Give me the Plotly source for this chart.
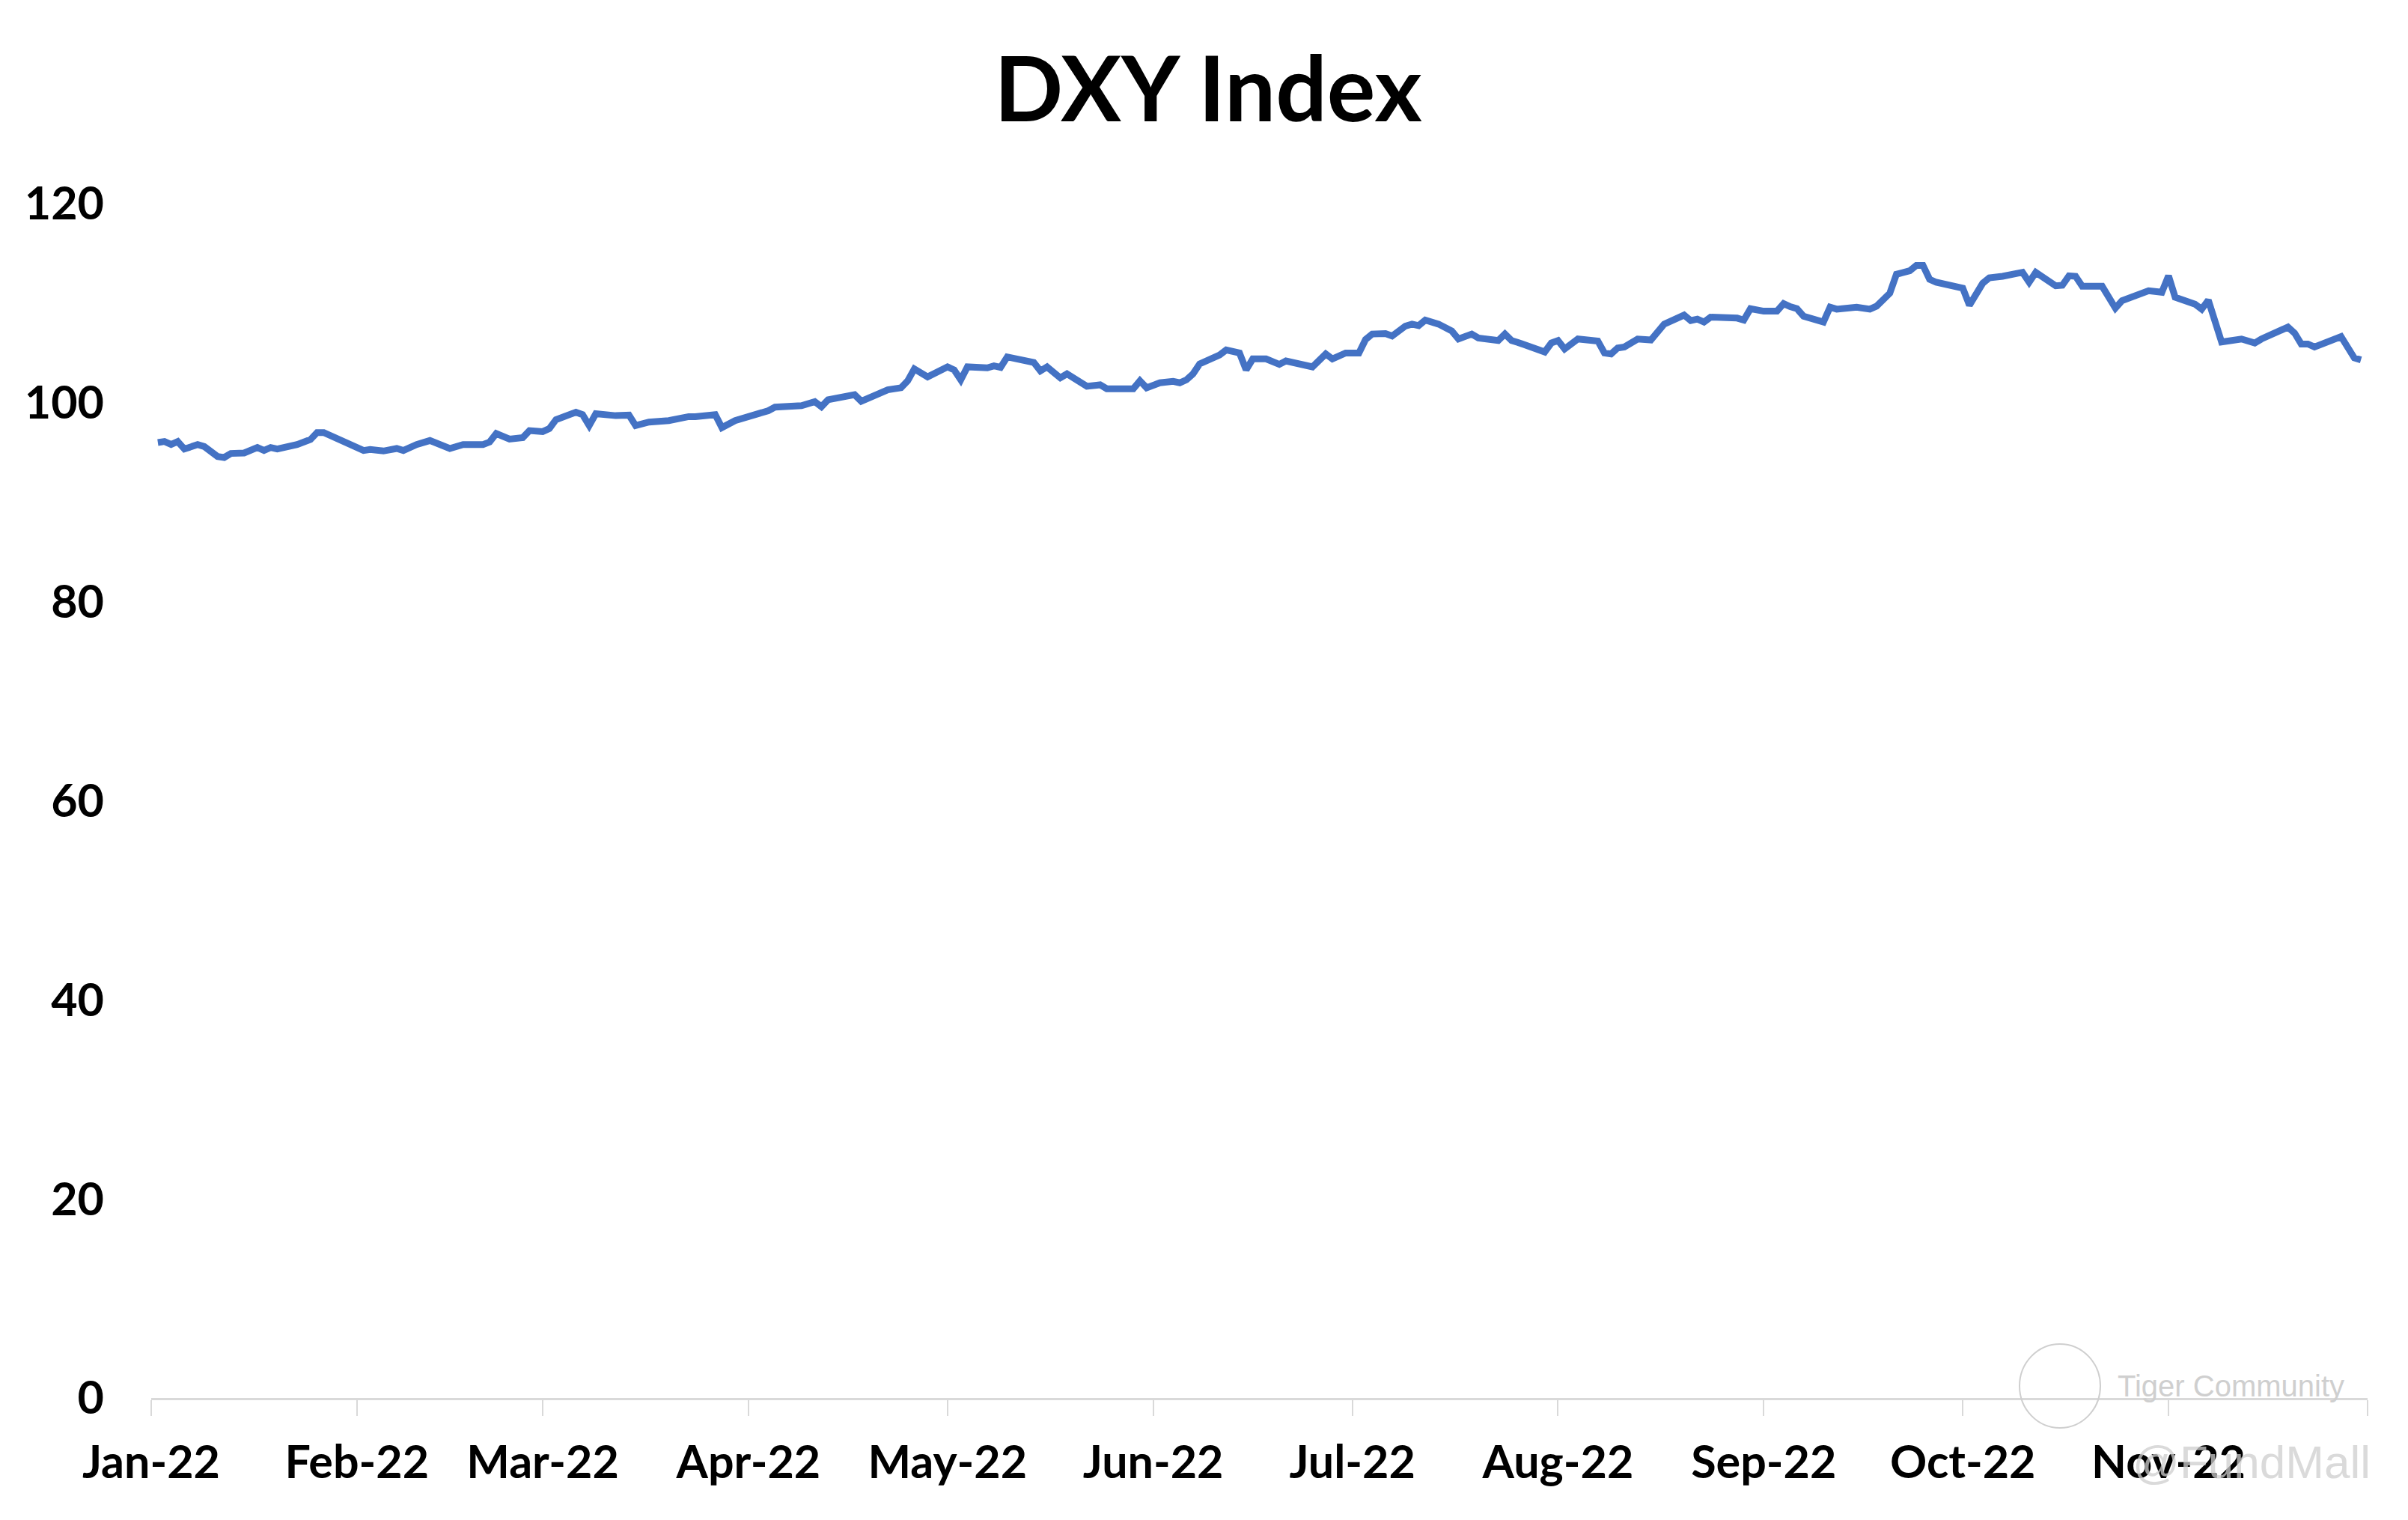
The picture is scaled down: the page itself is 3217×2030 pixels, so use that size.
import plotly.graph_objects as go

# ---- data ----
dates = [
    "2022-01-02", "2022-01-03", "2022-01-04", "2022-01-05", "2022-01-06", "2022-01-08", "2022-01-09",
    "2022-01-11", "2022-01-12", "2022-01-13", "2022-01-15", "2022-01-17", "2022-01-18", "2022-01-19",
    "2022-01-20", "2022-01-23", "2022-01-25", "2022-01-26", "2022-01-27", "2022-01-29", "2022-01-30",
    "2022-02-02", "2022-02-03", "2022-02-05", "2022-02-07", "2022-02-08", "2022-02-10", "2022-02-12",
    "2022-02-15", "2022-02-17", "2022-02-20", "2022-02-21", "2022-02-22", "2022-02-24", "2022-02-26",
    "2022-02-27", "2022-03-01", "2022-03-02", "2022-03-03", "2022-03-04", "2022-03-06", "2022-03-07",
    "2022-03-08", "2022-03-09", "2022-03-12", "2022-03-14", "2022-03-15", "2022-03-17", "2022-03-20",
    "2022-03-23", "2022-03-24", "2022-03-27", "2022-03-28", "2022-03-30", "2022-04-02", "2022-04-04",
    "2022-04-05", "2022-04-09", "2022-04-11", "2022-04-12", "2022-04-13", "2022-04-17", "2022-04-18",
    "2022-04-19", "2022-04-21", "2022-04-22", "2022-04-24", "2022-04-25", "2022-04-26", "2022-04-28",
    "2022-05-01", "2022-05-02", "2022-05-03", "2022-05-04", "2022-05-07", "2022-05-08", "2022-05-09",
    "2022-05-10", "2022-05-14", "2022-05-15", "2022-05-16", "2022-05-18", "2022-05-19", "2022-05-22",
    "2022-05-24", "2022-05-25", "2022-05-29", "2022-05-30", "2022-05-31", "2022-06-02", "2022-06-04",
    "2022-06-05", "2022-06-06", "2022-06-07", "2022-06-08", "2022-06-10", "2022-06-11", "2022-06-12",
    "2022-06-14", "2022-06-15", "2022-06-16", "2022-06-18", "2022-06-20", "2022-06-21", "2022-06-23",
    "2022-06-25", "2022-06-27", "2022-06-28", "2022-06-30", "2022-07-02", "2022-07-03", "2022-07-04",
    "2022-07-06", "2022-07-07", "2022-07-09", "2022-07-10", "2022-07-11", "2022-07-12", "2022-07-14",
    "2022-07-16", "2022-07-17", "2022-07-19", "2022-07-20", "2022-07-23", "2022-07-24", "2022-07-25",
    "2022-07-26", "2022-07-28", "2022-07-30", "2022-07-31", "2022-08-01", "2022-08-02", "2022-08-04",
    "2022-08-07", "2022-08-08", "2022-08-09", "2022-08-10", "2022-08-11", "2022-08-13", "2022-08-15",
    "2022-08-16", "2022-08-17", "2022-08-18", "2022-08-20", "2022-08-21", "2022-08-22", "2022-08-23",
    "2022-08-24", "2022-08-28", "2022-08-29", "2022-08-30", "2022-09-01", "2022-09-03", "2022-09-04",
    "2022-09-05", "2022-09-06", "2022-09-07", "2022-09-10", "2022-09-11", "2022-09-12", "2022-09-15",
    "2022-09-17", "2022-09-18", "2022-09-19", "2022-09-20", "2022-09-21", "2022-09-23", "2022-09-24",
    "2022-09-25", "2022-09-26", "2022-09-27", "2022-10-01", "2022-10-02", "2022-10-04", "2022-10-05",
    "2022-10-07", "2022-10-10", "2022-10-11", "2022-10-12", "2022-10-15", "2022-10-16", "2022-10-17",
    "2022-10-18", "2022-10-19", "2022-10-22", "2022-10-24", "2022-10-25", "2022-10-29", "2022-10-31",
    "2022-11-01", "2022-11-02", "2022-11-05", "2022-11-06", "2022-11-07", "2022-11-09", "2022-11-12",
    "2022-11-14", "2022-11-15", "2022-11-19", "2022-11-20", "2022-11-21", "2022-11-22", "2022-11-23",
    "2022-11-27", "2022-11-29", "2022-11-30",
]
dxy = [
    96.0, 96.1, 95.8, 96.1, 95.35, 95.8, 95.6,
    94.6, 94.5, 94.9, 94.95, 95.5, 95.2, 95.5,
    95.35, 95.8, 96.3, 97.0, 97.0, 96.4, 96.2,
    95.2, 95.3, 95.15, 95.4, 95.2, 95.8, 96.2,
    95.4, 95.8, 95.8, 96.05, 96.9, 96.35, 96.5,
    97.2, 97.1, 97.4, 98.3, 98.6, 99.05, 98.8,
    97.7, 98.9, 98.7, 98.75, 97.7, 98.05, 98.2,
    98.6, 98.6, 98.8, 97.5, 98.2, 98.7, 99.2,
    99.55, 99.7, 100.1, 99.6, 100.3, 100.8, 100.15,
    100.45, 101.0, 101.3, 101.5, 102.2, 103.4, 102.6,
    103.6, 103.3, 102.3, 103.6, 103.5, 103.7, 103.55,
    104.6, 104.05, 103.2, 103.6, 102.5, 102.9, 101.65,
    101.8, 101.4, 101.4, 102.2, 101.5, 102.0, 102.15,
    102.0, 102.3, 102.9, 103.9, 104.5, 104.8, 105.3,
    105.0, 103.3, 104.4, 104.4, 103.85, 104.2, 103.9,
    103.6, 104.9, 104.4, 105.0, 105.0, 106.35, 106.9,
    106.95, 106.7, 107.7, 107.9, 107.75, 108.3, 107.9,
    107.2, 106.4, 106.9, 106.5, 106.25, 106.9, 106.25,
    106.05, 105.6, 105.1, 106.0, 106.25, 105.4, 106.4,
    106.2, 105.0, 104.9, 105.5, 105.6, 106.4, 106.3,
    107.1, 107.9, 108.2, 108.8, 108.25, 108.4, 108.1,
    108.6, 108.5, 108.3, 109.45, 109.2, 109.2, 109.95,
    109.65, 109.45, 108.7, 108.1, 109.6, 109.4, 109.6,
    109.4, 109.7, 110.4, 111.0, 112.9, 113.25, 113.8,
    113.8, 112.4, 112.1, 111.5, 109.8, 112.0, 112.55,
    112.7, 113.1, 112.1, 113.1, 111.75, 111.8, 112.75,
    112.7, 111.7, 111.7, 109.5, 110.25, 111.25, 111.1,
    112.75, 110.6, 109.9, 109.4, 110.3, 106.1, 106.4,
    106.0, 106.4, 107.6, 107.0, 105.9, 105.9, 105.6,
    106.65, 104.5, 104.3,
]

month_ticks = ["2022-01-01", "2022-02-01", "2022-03-01", "2022-04-01", "2022-05-01", "2022-06-01",
               "2022-07-01", "2022-08-01", "2022-09-01", "2022-10-01", "2022-11-01", "2022-12-01"]
month_labels = ["Jan-22", "Feb-22", "Mar-22", "Apr-22", "May-22", "Jun-22",
                "Jul-22", "Aug-22", "Sep-22", "Oct-22", "Nov-22", ""]
y_ticks = [0, 20, 40, 60, 80, 100, 120]

# the page body has an 8px margin, so the figure is 8px smaller and offsets are shifted
OFF = 8
W, H = 3217 - OFF, 2030 - OFF
L, R, T, B = 202 - OFF, 54, 272 - OFF, 163

fig = go.Figure()
fig.add_trace(go.Scatter(
    x=dates, y=dxy, mode="lines",
    line=dict(color="#4472C4", width=9),
    showlegend=False, hoverinfo="x+y",
))

tick_font = dict(family="Lato", size=61, color="#000000", weight="bold")

fig.update_layout(
    width=W, height=H,
    margin=dict(l=L, r=R, t=T, b=B, pad=0),
    paper_bgcolor="white", plot_bgcolor="white",
    title=dict(text="DXY Index", x=(1614 - OFF) / W, xanchor="center", xref="container",
               y=1 - (120 - OFF) / H, yref="container", yanchor="middle",
               font=dict(family="Lato", size=121, color="#000000", weight="bold")),
    xaxis=dict(
        type="date", range=["2022-01-01", "2022-12-01"],
        tickmode="array", tickvals=month_ticks, ticktext=month_labels,
        showgrid=False, zeroline=False,
        showline=True, linecolor="#D9D9D9", linewidth=3,
        ticks="outside", ticklen=21, tickwidth=2, tickcolor="#D9D9D9",
        tickfont=tick_font, ticklabelstandoff=10,
    ),
    yaxis=dict(
        range=[0, 120], tickmode="array", tickvals=y_ticks,
        showgrid=False, zeroline=False, showline=False,
        ticks="", tickfont=tick_font, ticklabelstandoff=62,
    ),
)

# watermark (faint, as in the reference); positions given in screen pixels
px_to_paper_x = lambda px: (px - OFF - L) / (W - L - R)
px_to_paper_y = lambda py: (H - B - (py - OFF)) / (H - B - T)
fig.add_shape(type="circle", xref="paper", yref="paper",
              x0=px_to_paper_x(2698), x1=px_to_paper_x(2806),
              y0=px_to_paper_y(1907), y1=px_to_paper_y(1795),
              line=dict(color="#CFCFCF", width=2), fillcolor="rgba(0,0,0,0)", layer="above")
fig.add_annotation(text="Tiger Community", xref="paper", yref="paper",
                   x=px_to_paper_x(2827), y=px_to_paper_y(1851), xanchor="left", yanchor="middle",
                   showarrow=False, font=dict(family="Liberation Sans", size=40, color="#CFCFCF"))
fig.add_annotation(text="@FundMall", xref="paper", yref="paper",
                   x=px_to_paper_x(2847), y=px_to_paper_y(1953), xanchor="left", yanchor="middle",
                   showarrow=False, font=dict(family="Liberation Sans", size=62, color="rgba(205,205,205,0.75)"))

fig.write_html("out.html")
